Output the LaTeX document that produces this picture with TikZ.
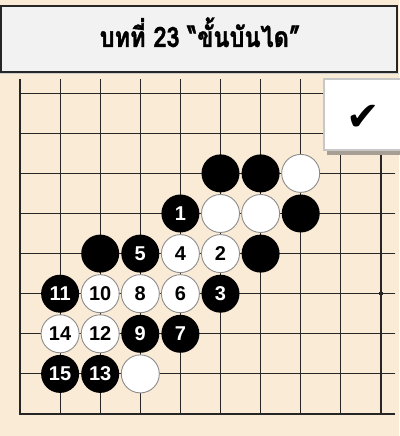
\documentclass[tikz,border=0pt]{standalone}
\usepackage{fontspec}
\setmainfont{Liberation Sans}
\newfontfamily\thaifont[Script=Thai, FakeBold=1.6]{Loma}
\newfontfamily\symfont{DejaVu Sans}

\definecolor{boardbg}{HTML}{FAEBD7}
\definecolor{titlebg}{HTML}{F2F2F2}
\definecolor{gridline}{HTML}{262626}
\definecolor{tickshadow}{HTML}{A89F94}

\tikzset{
  stone/.style={circle, minimum size=38pt, inner sep=0pt,
    font=\bfseries\fontsize{20}{20}\selectfont},
  blackstone/.style={stone, fill=black, text=white},
  whitestone/.style={stone, fill=white, draw=black!45, line width=0.9pt, text=black},
}

\begin{document}
\begin{tikzpicture}[x=1pt,y=1pt]
        \useasboundingbox (0,0) rectangle (399,436);
        \fill[boardbg] (0,0) rectangle (399,436);

        % title bar
        \filldraw[fill=titlebg, draw=black!85, line width=2pt] (1,364) rectangle (397,430);
        \draw[black!20, line width=1pt] (0,362.5) -- (399,362.5);
        \node[anchor=base, font=\thaifont\bfseries\fontsize{28}{28}\selectfont] (title) at (200,389) {\scalebox{0.84}[1]{บทที่ 23 “ขั้นบันได”}};

        % board
        \begin{scope}[shift={(20,22)}, x=40.1pt, y=40.1pt]
            \foreach \i in {1,...,9} \draw[gridline, line width=1.2pt] (\i,0) -- (\i,8.35);
            \foreach \j in {1,...,8} \draw[gridline, line width=1.2pt] (0,\j) -- (9.35,\j);
            \draw[gridline, line width=2.4pt] (0,8.35) -- (0,0) -- (9.35,0);
            \fill[gridline] (9,3) ++(-1.8pt,-1.8pt) rectangle ++(3.6pt,3.6pt);

            % stones already on the board
            \node[blackstone] (b56) at (5,6) {};
            \node[blackstone] (b66) at (6,6) {};
            \node[whitestone] (w76) at (7,6) {};
            \node[whitestone] (w55) at (5,5) {};
            \node[whitestone] (w65) at (6,5) {};
            \node[blackstone] (b75) at (7,5) {};
            \node[blackstone] (b24) at (2,4) {};
            \node[blackstone] (b64) at (6,4) {};
            \node[whitestone] (w31) at (3,1) {};

            % the ladder
            \node[blackstone] (m1) at (4,5) {1};
            \node[whitestone] (m2) at (5,4) {2};
            \node[blackstone] (m3) at (5,3) {3};
            \node[whitestone] (m4) at (4,4) {4};
            \node[blackstone] (m5) at (3,4) {5};
            \node[whitestone] (m6) at (4,3) {6};
            \node[blackstone] (m7) at (4,2) {7};
            \node[whitestone] (m8) at (3,3) {8};
            \node[blackstone] (m9) at (3,2) {9};
            \node[whitestone] (m10) at (2,3) {10};
            \node[blackstone] (m11) at (1,3) {11};
            \node[whitestone] (m12) at (2,2) {12};
            \node[blackstone] (m13) at (2,1) {13};
            \node[whitestone] (m14) at (1,2) {14};
            \node[blackstone] (m15) at (1,1) {15};
        \end{scope}

        % answer mark
        \fill[tickshadow] (327,281) rectangle (402,352);
        \filldraw[fill=white, draw=black!22, line width=2pt] (324,286) rectangle (402,357);
        \node[font=\symfont\fontsize{40}{40}\selectfont] (tick) at (363,318) {✔};
\end{tikzpicture}
\end{document}
